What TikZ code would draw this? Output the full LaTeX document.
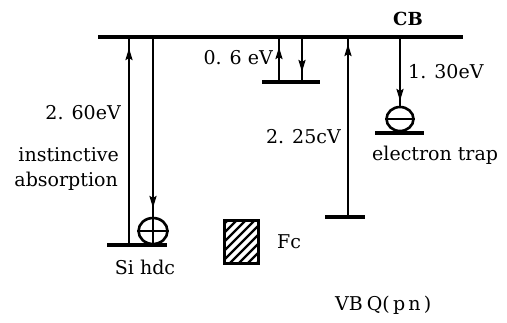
\documentclass[tikz,border=0pt]{standalone}
\usepackage{fontspec}
\setmainfont{DejaVu Serif}
\usetikzlibrary{arrows.meta,shapes.geometric}
\begin{document}
\begin{tikzpicture}[x=1pt,y=-1pt,
  lvl/.style={line width=3.8pt},
  vline/.style={line width=2.3pt},
  tip/.style={line width=2.3pt,-{Stealth[length=12pt,width=7pt,inset=2pt]}},
  lbl/.style={font=\fontsize{19}{21}\selectfont,inner sep=0pt},
  carrier/.style={draw,line width=2.6pt,ellipse,inner sep=0pt}
]
\useasboundingbox (0,0) rectangle (507,322);
% conduction band
\coordinate (cbL) at (98,37);
\coordinate (cbR) at (463,37);
\draw[lvl] (cbL) -- (cbR);
\node[lbl,font=\fontsize{18}{20}\selectfont\bfseries] (cb) at (408,19) {CB};
% Si hole level
\coordinate (siL) at (107,245);
\coordinate (siR) at (167,245);
\draw[lvl] (siL) -- (siR);
\coordinate (a1t) at (129,37);
\coordinate (a1b) at (129,245);
\draw[vline] (a1t) -- (a1b);
\draw[tip] (129,64) -- (129,48);
\node[carrier,minimum width=29pt,minimum height=26pt] (hole) at (153,231) {};
\draw[line width=2pt] (hole.north) -- (hole.south) (hole.west) -- (hole.east);
\coordinate (a2t) at (153,37);
\draw[vline] (a2t) -- (hole.north);
\draw[tip] (153,192) -- (153,208);
% 0.6 eV level
\coordinate (l06L) at (262,82);
\coordinate (l06R) at (320,82);
\draw[lvl] (l06L) -- (l06R);
\coordinate (b1t) at (279,37);
\coordinate (b1b) at (279,82);
\coordinate (b2t) at (302,37);
\coordinate (b2b) at (302,82);
\draw[vline] (b1t) -- (b1b);
\draw[vline] (b2t) -- (b2b);
\draw[tip] (279,62) -- (279,47);
\draw[tip] (302,58) -- (302,72);
% 2.25 eV level
\coordinate (l225L) at (325,217);
\coordinate (l225R) at (365,217);
\draw[lvl] (l225L) -- (l225R);
\coordinate (c1t) at (348,37);
\coordinate (c1b) at (348,217);
\draw[vline] (c1t) -- (c1b);
\draw[tip] (348,60) -- (348,44);
% electron trap
\coordinate (trL) at (375,133);
\coordinate (trR) at (424,133);
\draw[lvl] (trL) -- (trR);
\node[carrier,minimum width=27pt,minimum height=24pt] (elec) at (400,119) {};
\draw[line width=2pt] (elec.west) -- (elec.east);
\coordinate (d1t) at (400,37);
\draw[vline] (d1t) -- (elec.north);
\draw[tip] (400,84) -- (400,101);
% hatched box
\node[draw,line width=2.4pt,minimum width=33pt,minimum height=42pt,inner sep=0pt] (fe) at (241.5,242) {};
\begin{scope}
\clip (225,221) rectangle (258,263);
\foreach \k in {-40,-31,...,80} {
  \draw[line width=2.4pt] (225+\k,263) -- (225+\k+50,213);
}
\end{scope}
\draw[line width=2.4pt] (fe.south west) rectangle (fe.north east);
% labels
\node[lbl,anchor=east] (t06) at (273,58) {0. 6 eV};
\node[lbl,anchor=east] (t260) at (121,113) {2. 60eV};
\node[lbl,anchor=east] (tins) at (119,155) {instinctive};
\node[lbl,anchor=east] (tabs) at (118,181) {absorption};
\node[lbl] (tsi) at (145,267) {Si hdc};
\node[lbl,anchor=west] (tfe) at (277,242) {Fc};
\node[lbl,anchor=east] (t225) at (341,137) {2. 25cV};
\node[lbl,anchor=west] (t130) at (408,72) {1. 30eV};
\node[lbl,anchor=west] (ttrap) at (372,155) {electron trap};
\node[lbl,anchor=west] (tvb) at (335,305) {VB\hspace{4pt}Q(\,p\,n\,)};
\end{tikzpicture}
\end{document}
